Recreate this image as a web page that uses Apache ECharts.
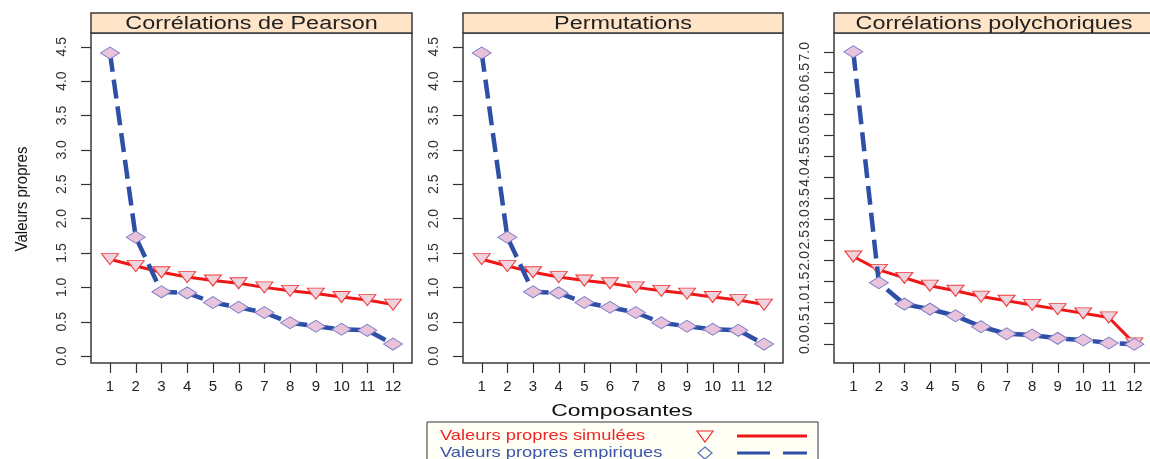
<!DOCTYPE html>
<html><head><meta charset="utf-8">
<script src="https://cdn.jsdelivr.net/npm/echarts@6/dist/echarts.min.js"></script>
<style>html,body{margin:0;padding:0;background:#fff}#c{width:1150px;height:459px}</style>
</head><body><div id="c"></div>
<script>
// ---- data ----
const components = [1,2,3,4,5,6,7,8,9,10,11,12];
const panelTitles = ['Corrélations de Pearson','Permutations','Corrélations polychoriques'];
const pearsonSimulated = [1.41,1.31,1.22,1.15,1.10,1.06,1.00,0.95,0.91,0.86,0.815,0.75];
const pearsonEmpirical = [4.41,1.73,0.935,0.92,0.78,0.71,0.635,0.485,0.435,0.39,0.375,0.175];
const permSimulated = [1.41,1.31,1.22,1.15,1.10,1.06,1.00,0.95,0.91,0.86,0.815,0.75];
const permEmpirical = [4.41,1.73,0.935,0.92,0.78,0.71,0.635,0.485,0.435,0.39,0.375,0.175];
const polySimulated = [2.10,1.78,1.59,1.40,1.28,1.14,1.04,0.94,0.84,0.74,0.64,0.02];
const polyEmpirical = [7.00,1.47,0.96,0.84,0.68,0.42,0.25,0.22,0.14,0.10,0.03,0.0];
const yTickLabelsA = ['0.0','0.5','1.0','1.5','2.0','2.5','3.0','3.5','4.0','4.5'];
const yTickLabelsB = ['0.0','0.5','1.0','1.5','2.0','2.5','3.0','3.5','4.0','4.5','5.0','5.5','6.0','6.5','7.0'];
const legendLabels = ['Valeurs propres simulées','Valeurs propres empiriques'];
const xAxisTitle = 'Composantes';
const yAxisTitle = 'Valeurs propres';

// ---- styling / layout ----
const RED = '#EE1616', BLUE = '#2E4FA6';
const panels = [
  {frameL:91,  frameW:321, first:110.0, last:393.0, sim:pearsonSimulated, emp:pearsonEmpirical, yt:yTickLabelsA, ymin:-0.10, ymax:4.70},
  {frameL:463, frameW:320, first:481.7, last:764.0, sim:permSimulated,    emp:permEmpirical,    yt:yTickLabelsA, ymin:-0.10, ymax:4.70},
  {frameL:834, frameW:320, first:853.3, last:1134.3, sim:polySimulated,   emp:polyEmpirical,    yt:yTickLabelsB, ymin:-0.45, ymax:7.45}
];
const TOP = 33, H = 330, TICK = 10;
const FONT = '"Liberation Sans", Arial, sans-serif';
const pairs = arr => components.map((c,i)=>[c, arr[i]]);

const grid = [], xAxis = [], yAxis = [], series = [], graphic = [];
panels.forEach((p, k) => {
  grid.push({left:p.first, top:TOP, width:p.last - p.first, height:H, show:false, containLabel:false});
  xAxis.push({type:'value', gridIndex:k, min:1, max:12, interval:1, position:'bottom', z:8,
    axisLine:{show:false, onZero:false}, splitLine:{show:false},
    axisTick:{show:false},
    axisLabel:{margin:16, fontSize:15, fontFamily:FONT, color:'#222',
      formatter: v => String(Math.round(v))}});
  yAxis.push({type:'value', gridIndex:k, min:p.ymin, max:p.ymax, position:'left',
    offset: p.first - p.frameL,
    axisLine:{show:false, onZero:false}, splitLine:{show:false},
    axisTick:{show:true, length:TICK, lineStyle:{color:'#333', width:1.2},
      customValues: p.yt.map(Number)},
    axisLabel:{customValues: p.yt.map(Number), rotate:90, margin:22,
      fontSize:14, fontFamily:FONT, color:'#333',
      formatter: v => Number(v).toFixed(1)}});
  series.push({type:'line', name:legendLabels[0], xAxisIndex:k, yAxisIndex:k,
    data:pairs(p.sim), symbol:'triangle', symbolRotate:180, symbolSize:[17,11], clip:false,
    itemStyle:{color:'#EED3DF', borderColor:'#F03A3A', borderWidth:1},
    lineStyle:{color:RED, width:3}, z:3, animation:false});
  series.push({type:'line', name:legendLabels[1], xAxisIndex:k, yAxisIndex:k,
    data:pairs(p.emp), symbol:'diamond', symbolSize:[19,12], clip:false,
    itemStyle:{color:'#E8C3DA', borderColor:'#7A7ACB', borderWidth:1},
    lineStyle:{color:BLUE, width:4.5, type:[19,8], cap:'butt'}, z:4, animation:false});
  graphic.push({type:'rect', shape:{x:p.frameL, y:TOP, width:p.frameW, height:H},
    style:{fill:'none', stroke:'#3a3a3a', lineWidth:1.5}, z:10, silent:true});
  graphic.push({type:'rect', shape:{x:p.frameL, y:13, width:p.frameW, height:20},
    style:{fill:'#FFE4C8', stroke:'#3a3a3a', lineWidth:1.5}, z:10});
  graphic.push({type:'text', x:p.frameL + p.frameW/2, y:24, scaleX:1.3, z:11,
    style:{text:panelTitles[k], font:'18px ' + FONT, fill:'#222',
      align:'center', verticalAlign:'middle', textAlign:'center', textVerticalAlign:'middle'}});
});

graphic.push({type:'text', x:622, y:411, scaleX:1.35, z:11,
  style:{text:xAxisTitle, font:'17px ' + FONT, fill:'#111',
    align:'center', verticalAlign:'middle', textAlign:'center', textVerticalAlign:'middle'}});
graphic.push({type:'text', x:22, y:199, rotation:Math.PI/2, scaleY:1.15, z:11,
  style:{text:yAxisTitle, font:'15px ' + FONT, fill:'#111',
    align:'center', verticalAlign:'middle', textAlign:'center', textVerticalAlign:'middle'}});

// legend
graphic.push({type:'rect', shape:{x:427, y:422, width:391, height:60},
  style:{fill:'#FFFFF6', stroke:'#333', lineWidth:1}, z:10});
graphic.push({type:'text', x:440, y:436, scaleX:1.22, z:11,
  style:{text:legendLabels[0], font:'15px ' + FONT, fill:'#F02525',
    align:'left', verticalAlign:'middle', textAlign:'left', textVerticalAlign:'middle'}});
graphic.push({type:'text', x:440, y:453, scaleX:1.22, z:11,
  style:{text:legendLabels[1], font:'15px ' + FONT, fill:'#3A56AA',
    align:'left', verticalAlign:'middle', textAlign:'left', textVerticalAlign:'middle'}});
graphic.push({type:'polygon', shape:{points:[[697,431],[713,431],[705,442]]},
  style:{fill:'none', stroke:'#F02525', lineWidth:1.2}, z:11});
graphic.push({type:'polygon', shape:{points:[[705,447],[712,453],[705,459],[698,453]]},
  style:{fill:'none', stroke:'#5A6FB8', lineWidth:1.2}, z:11});
graphic.push({type:'line', shape:{x1:737, y1:436, x2:807, y2:436},
  style:{stroke:RED, lineWidth:3}, z:11});
graphic.push({type:'line', shape:{x1:737, y1:453, x2:807, y2:453},
  style:{stroke:BLUE, lineWidth:3, lineDash:[33,13]}, z:11});

const chart = echarts.init(document.getElementById('c'), null, {renderer:'canvas'});
chart.setOption({animation:false, backgroundColor:'#fff', grid, xAxis, yAxis, series, graphic});

// x tick marks, placed through each panel's own x scale
const tickEls = [];
panels.forEach((p, k) => {
  components.forEach(c => {
    const px = chart.convertToPixel({xAxisIndex:k}, c);
    if (px == null || isNaN(px)) return;
    const x = Math.round(px) + 0.5;
    tickEls.push({type:'line', id:'xt_' + k + '_' + c, silent:true, z:12,
      shape:{x1:x, y1:TOP + H, x2:x, y2:TOP + H + TICK},
      style:{stroke:'#333', lineWidth:1.2}});
  });
});
chart.setOption({graphic: tickEls});
</script></body></html>
